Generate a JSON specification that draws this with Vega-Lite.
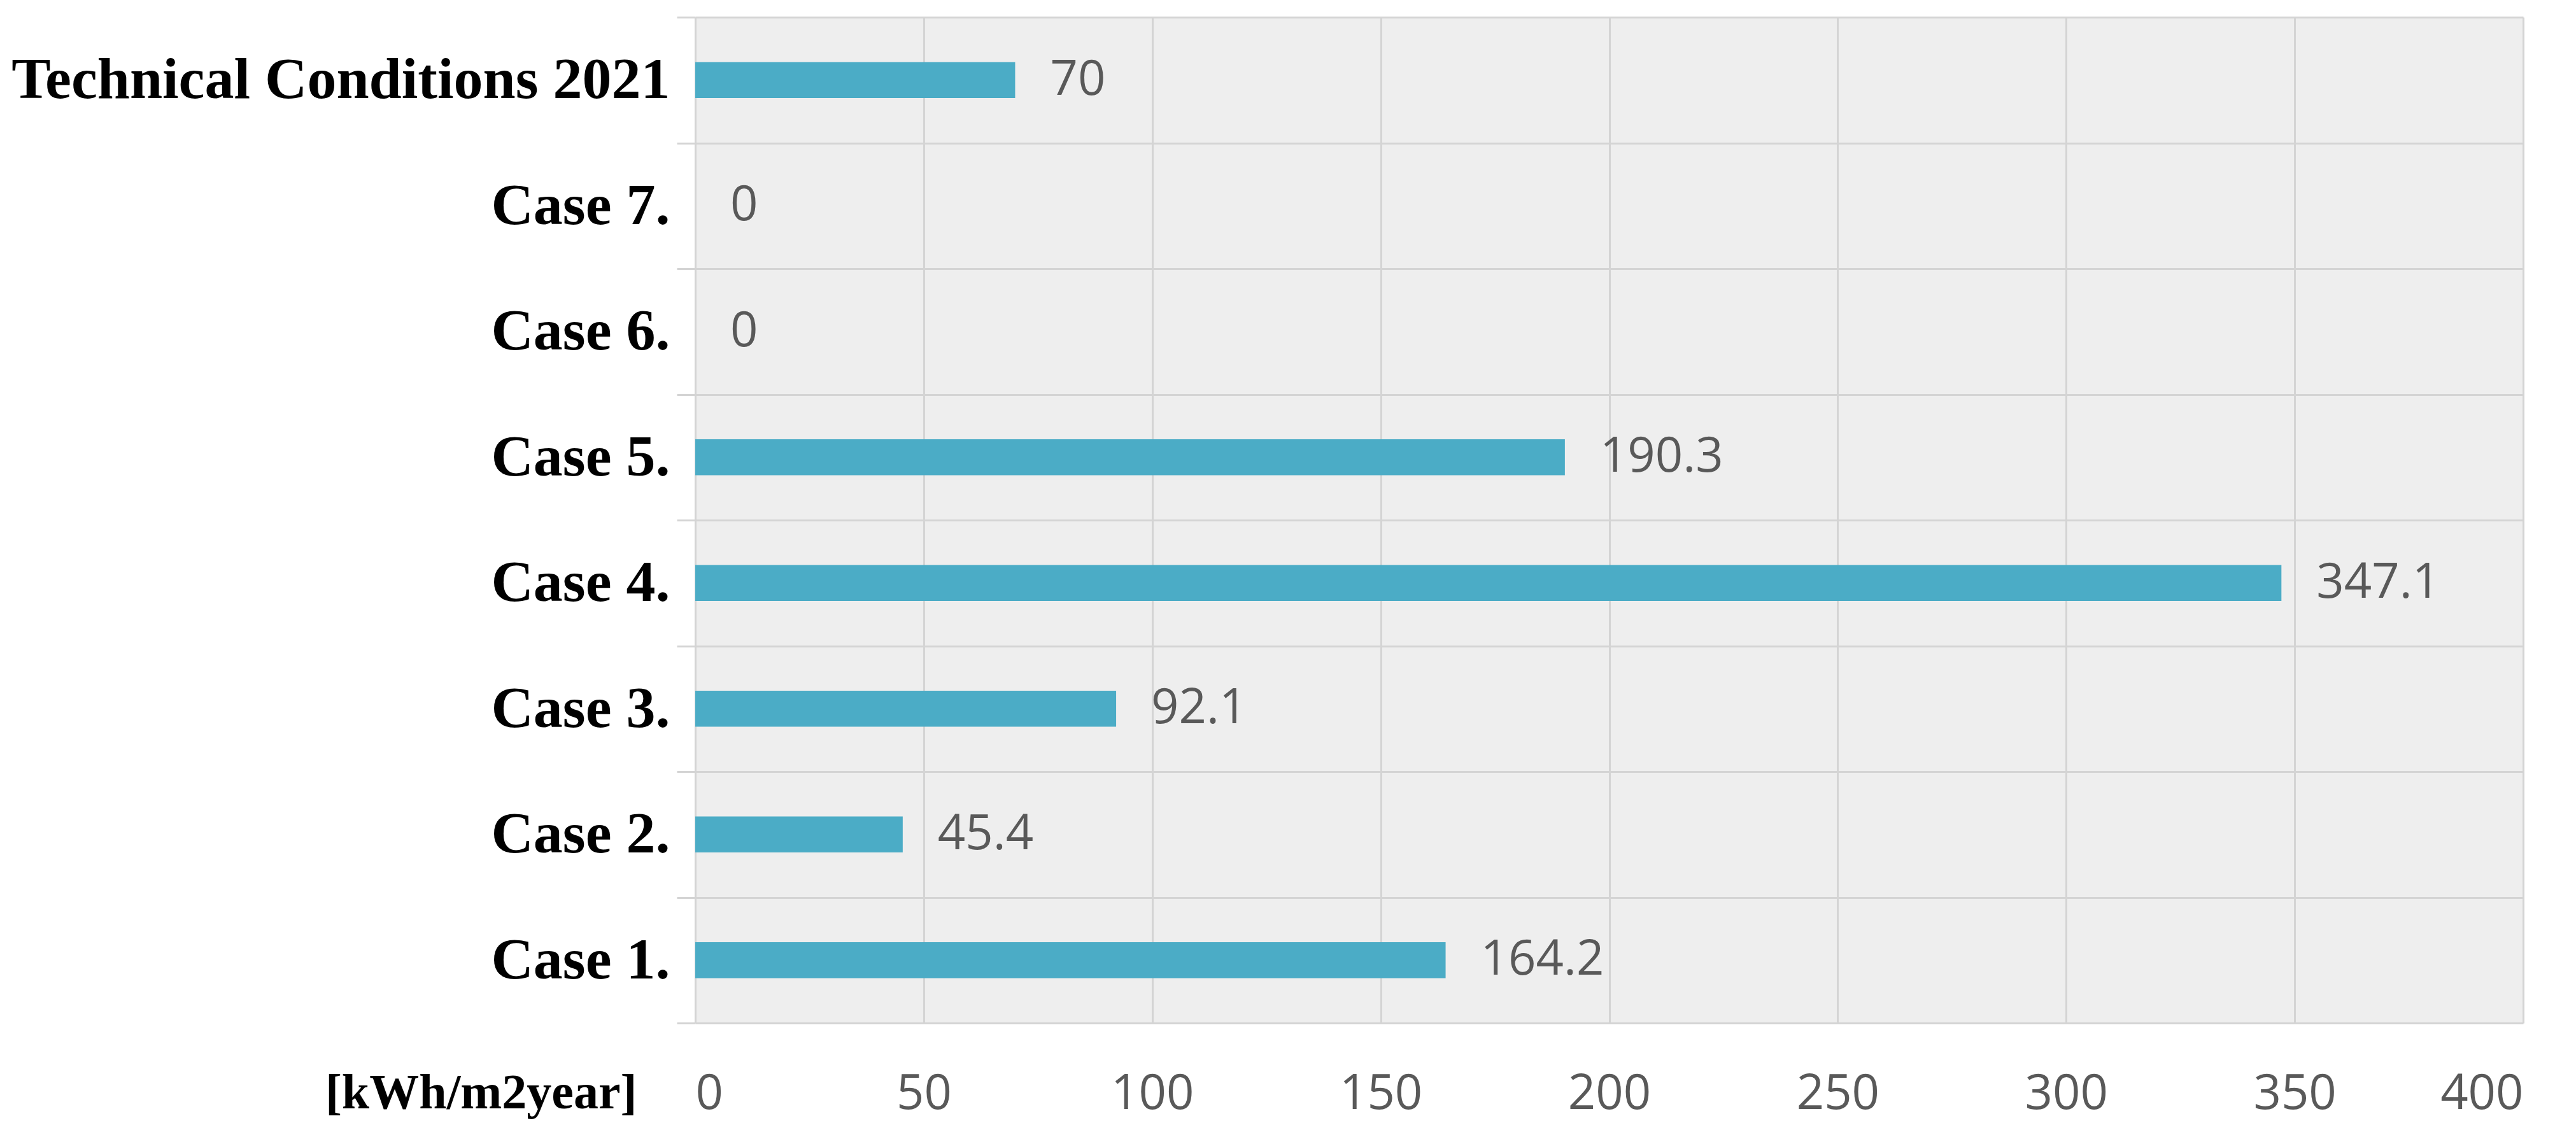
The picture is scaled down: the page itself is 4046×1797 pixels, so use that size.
{
  "$schema": "https://vega.github.io/schema/vega-lite/v6.json",
  "width": 2871,
  "height": 1580,
  "autosize": {"type": "none"},
  "padding": {"left": 1092, "top": 27, "right": 83, "bottom": 190},
  "background": "white",
  "view": {"fill": "#eeeeee", "stroke": null},
  "data": {
    "values": [
      {"case": "Technical Conditions 2021", "value": 70},
      {"case": "Case 7.", "value": 0},
      {"case": "Case 6.", "value": 0},
      {"case": "Case 5.", "value": 190.3},
      {"case": "Case 4.", "value": 347.1},
      {"case": "Case 3.", "value": 92.1},
      {"case": "Case 2.", "value": 45.4},
      {"case": "Case 1.", "value": 164.2}
    ]
  },
  "encoding": {
    "y": {
      "field": "case",
      "type": "nominal",
      "sort": null,
      "scale": {"paddingInner": 0, "paddingOuter": 0},
      "axis": {
        "title": null,
        "tickBand": "extent",
        "grid": true,
        "gridColor": "#d4d4d4",
        "gridWidth": 3,
        "ticks": true,
        "tickSize": 29,
        "tickWidth": 3,
        "tickColor": "#d4d4d4",
        "domain": false,
        "labelPadding": 11,
        "labelFont": "Liberation Serif",
        "labelFontWeight": "bold",
        "labelFontSize": 92,
        "labelColor": "#000000",
        "labelLimit": 2000
      }
    },
    "x": {
      "field": "value",
      "type": "quantitative",
      "scale": {"domain": [0, 400], "nice": false},
      "axis": {
        "values": [0, 50, 100, 150, 200, 250, 300, 350, 400],
        "title": "[kWh/m2year]",
        "titleFont": "Liberation Serif",
        "titleFontWeight": "bold",
        "titleFontSize": 78,
        "titleColor": "#000000",
        "titleAlign": "right",
        "titleBaseline": "middle",
        "titleAnchor": "start",
        "titleX": -92,
        "titleY": 110,
        "grid": true,
        "gridColor": "#d4d4d4",
        "gridWidth": 3,
        "ticks": false,
        "domain": false,
        "labelPadding": 111,
        "labelFont": "Open Sans",
        "labelFontSize": 76,
        "labelColor": "#595959",
        "labelBaseline": "middle"
      }
    }
  },
  "layer": [
    {
      "mark": {"type": "bar", "color": "#4BACC6", "height": {"band": 0.285}}
    },
    {
      "mark": {
        "type": "text",
        "align": "left",
        "baseline": "middle",
        "dx": 55,
        "font": "Open Sans",
        "fontSize": 76,
        "color": "#595959"
      },
      "encoding": {"text": {"field": "value", "type": "quantitative"}}
    }
  ]
}
